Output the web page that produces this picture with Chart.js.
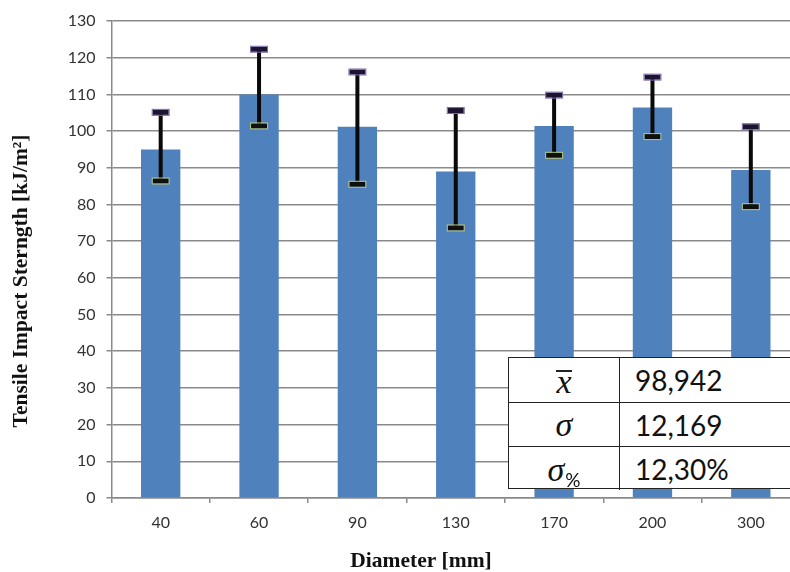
<!DOCTYPE html>
<html>
<head>
<meta charset="utf-8">
<script src="https://cdn.jsdelivr.net/npm/chart.js@4/dist/chart.umd.min.js"></script>
<style>
html,body{margin:0;padding:0;background:#fff;overflow:hidden;width:790px;height:572px;}
#wrap{position:relative;width:800px;height:572px;}
canvas{position:absolute;left:0;top:0;}
#tbl{position:absolute;left:508px;top:357px;width:300px;height:132px;background:#fff;border:1.5px solid #222;box-sizing:border-box;}
.row{display:flex;height:44px;box-sizing:border-box;}
.row + .row{border-top:1.5px solid #222;}
.sym{width:111px;border-right:1.5px solid #222;display:flex;align-items:center;justify-content:center;font-family:"Liberation Serif",serif;font-style:italic;font-size:34px;color:#111;box-sizing:border-box;}
.val{flex:1;display:flex;align-items:center;padding-left:15px;font-family:Lato,sans-serif;font-size:28px;color:#111;}
.xbar{display:inline-block;border-top:2px solid #222;line-height:20px;padding-top:0px;margin-top:2px;}
.sub{font-family:Lato,sans-serif;font-style:normal;font-size:19px;position:relative;top:10px;margin-left:1px;}
</style>
</head>
<body>
<div id="wrap">
<canvas id="c" width="800" height="572"></canvas>
<div id="tbl">
  <div class="row"><div class="sym"><span class="xbar">x</span></div><div class="val">98,942</div></div>
  <div class="row"><div class="sym">σ</div><div class="val">12,169</div></div>
  <div class="row"><div class="sym" style="padding-top:2px"><span>σ</span><span class="sub">%</span></div><div class="val">12,30%</div></div>
</div>
</div>
<script>
const categories = ['40', '60', '90', '130', '170', '200', '300'];
const meanValues = [95.0, 110.0, 101.2, 89.0, 101.4, 106.4, 89.4];
const errorUpper = [105.1, 122.3, 116.1, 105.6, 109.8, 114.7, 101.2];
const errorLower = [86.4, 101.4, 85.5, 73.6, 93.4, 98.5, 79.4];
const yTitle = 'Tensile Impact Sterngth [kJ/m²]';
const xTitle = 'Diameter [mm]';

const errorBarPlugin = {
  id: 'errorBars',
  afterDatasetsDraw(chart) {
    const ctx = chart.ctx;
    const meta = chart.getDatasetMeta(0);
    const y = chart.scales.y;
    ctx.save();
    meta.data.forEach((bar, i) => {
      const x = bar.x;
      const yt = y.getPixelForValue(errorUpper[i]);
      const yb = y.getPixelForValue(errorLower[i]);
      ctx.strokeStyle = '#0a0a0a';
      ctx.lineWidth = 4;
      ctx.beginPath();
      ctx.moveTo(x, yt);
      ctx.lineTo(x, yb);
      ctx.stroke();
      // upper cap
      ctx.fillStyle = '#1c1430';
      ctx.fillRect(x - 8, yt - 2.5, 16, 5);
      ctx.strokeStyle = '#7a68a8';
      ctx.lineWidth = 1;
      ctx.strokeRect(x - 8.5, yt - 3, 17, 6);
      // lower cap
      ctx.fillStyle = '#101010';
      ctx.fillRect(x - 8, yb - 2.5, 16, 5);
      ctx.strokeStyle = '#b4c47a';
      ctx.strokeRect(x - 8.5, yb - 3, 17, 6);
    });
    ctx.restore();
  }
};

const titlesPlugin = {
  id: 'axisTitles',
  afterDraw(chart) {
    const ctx = chart.ctx;
    ctx.save();
    ctx.fillStyle = '#111';
    ctx.font = 'bold 21.5px "Liberation Serif", "Times New Roman", serif';
    ctx.textAlign = 'center';
    ctx.textBaseline = 'middle';
    ctx.fillText(xTitle, 421, 561);
    ctx.translate(21, 281);
    ctx.rotate(-Math.PI / 2);
    ctx.fillText(yTitle, 0, 0);
    ctx.restore();
  }
};

new Chart(document.getElementById('c'), {
  type: 'bar',
  data: {
    labels: categories,
    datasets: [{
      data: meanValues,
      backgroundColor: '#4f81bd',
      borderWidth: 0,
      barPercentage: 0.4,
      categoryPercentage: 1.0
    }]
  },
  options: {
    responsive: false,
    animation: false,
    devicePixelRatio: 1,
    layout: { padding: { left: 0, right: 0, top: 21, bottom: 0 } },
    plugins: { legend: { display: false }, tooltip: { enabled: false } },
    scales: {
      x: {
        afterFit(s) { s.height = 74; },
        grid: { display: true, drawOnChartArea: false, drawTicks: true, tickLength: 5, color: '#8a8a8a', lineWidth: 1.5, offset: true },
        border: { color: '#8a8a8a', width: 1.5 },
        ticks: { color: '#333', font: { family: 'Lato', size: 16 }, padding: 10, maxRotation: 0 }
      },
      y: {
        min: 0, max: 130,
        afterFit(s) { s.width = 111.5; },
        grid: { color: '#8a8a8a', lineWidth: 1.5, tickLength: 5 },
        border: { color: '#8a8a8a', width: 1.5 },
        ticks: { stepSize: 10, color: '#333', font: { family: 'Lato', size: 16 }, padding: 11 }
      }
    }
  },
  plugins: [errorBarPlugin, titlesPlugin]
});
</script>
</body>
</html>
